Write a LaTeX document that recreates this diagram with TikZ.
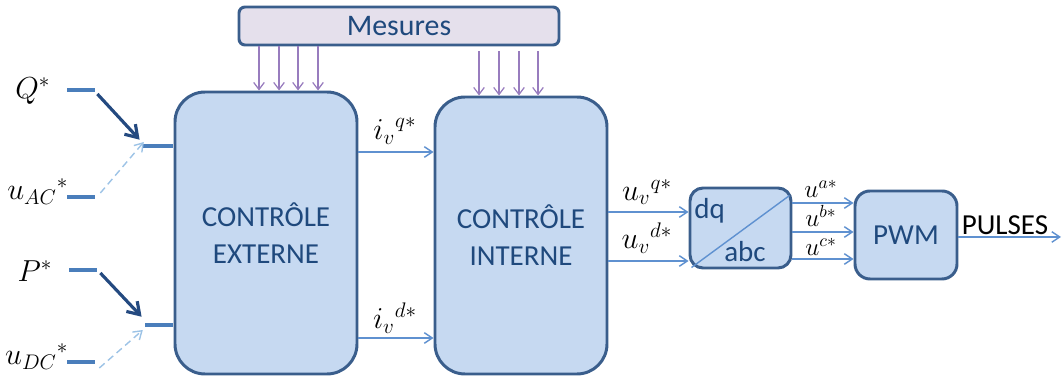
\documentclass[tikz,border=0pt]{standalone}
\usepackage{fontspec}
\setmainfont{Carlito}
\usetikzlibrary{arrows.meta}

\definecolor{boxfill}{RGB}{198,217,241}
\definecolor{boxline}{RGB}{58,94,140}
\definecolor{boxtext}{RGB}{31,73,125}
\definecolor{mesfill}{RGB}{229,224,236}
\definecolor{mesarrow}{RGB}{152,124,190}
\definecolor{sigline}{RGB}{95,145,208}
\definecolor{barblue}{RGB}{74,126,187}
\definecolor{darkarrow}{RGB}{36,74,128}
\definecolor{dasharrow}{RGB}{157,195,230}

\tikzset{
  block/.style={draw=boxline, line width=1.7pt, fill=boxfill, text=boxtext,
    align=center, inner sep=0pt, font=\fontsize{16.5}{21}\selectfont},
  mesbox/.style={draw=boxline, line width=1.7pt, fill=mesfill, text=boxtext,
    rounded corners=6*0.02cm, inner sep=0pt, font=\fontsize{17}{19}\selectfont},
  sig/.style={draw=sigline, line width=0.8pt, -{Straight Barb[length=4.5pt,width=6pt]}},
  meas/.style={draw=mesarrow, line width=0.7pt, -{Straight Barb[length=4pt,width=6pt]}},
  bar/.style={fill=barblue, inner sep=0pt, minimum height=2.8pt},
  ref/.style={draw=darkarrow, line width=1.8pt, -{Straight Barb[length=6.5pt,width=8.5pt]}, shorten >=1pt},
  refdash/.style={draw=dasharrow, line width=0.8pt, dashed, dash pattern=on 4pt off 2.5pt,
    -{Straight Barb[length=4.5pt,width=6pt]}},
  mlab/.style={inner sep=0pt, font=\fontsize{17}{20}\selectfont},
  slab/.style={inner sep=0pt, font=\fontsize{14}{15}\selectfont},
  tlab/.style={inner sep=0pt, font=\fontsize{16.5}{19}\selectfont},
}

\begin{document}
\begin{tikzpicture}[x=0.02cm, y=-0.02cm]
\useasboundingbox (0,0) rectangle (1063,381);

% main blocks
\node[mesbox, minimum width=320*0.02cm, minimum height=38*0.02cm] (mes) at (399,26) {Mesures};
\node[block, rounded corners=30*0.02cm, minimum width=182*0.02cm, minimum height=282*0.02cm] (ext) at (266,233)
  {CONTRÔLE\\EXTERNE};
\node[block, rounded corners=30*0.02cm, minimum width=172*0.02cm, minimum height=277*0.02cm] (int) at (521,235.5)
  {CONTRÔLE\\INTERNE};
\node[block, rounded corners=13*0.02cm, minimum width=101*0.02cm, minimum height=80*0.02cm] (dq) at (740.5,228) {};
\node[block, rounded corners=15*0.02cm, minimum width=102*0.02cm, minimum height=88*0.02cm] (pwm) at (906,235) {PWM};

% dq / abc transform
\draw[sigline, line width=0.8pt] ([shift={(3,-2)}]dq.south west) -- ([shift={(-3,9)}]dq.north east);
\node[tlab, text=boxtext, anchor=west] (dqt) at (694,211) {dq};
\node[tlab, text=boxtext, anchor=west] (abct) at (724,252) {abc};

% measurements
\foreach \x in {259,279,298,318}
  \draw[meas] (mes.south -| \x,0) -- (ext.north -| \x,0);
\foreach \x in {479,499,519,538}
  \draw[meas] ([yshift=-5*0.02cm]mes.south -| \x,0) -- (int.north -| \x,0);

% reference inputs
\node[bar, minimum width=28*0.02cm] (qbar) at (81,90) {};
\node[bar, minimum width=28*0.02cm] (uacbar) at (81,197) {};
\node[bar, minimum width=28*0.02cm] (pbar) at (83,270) {};
\node[bar, minimum width=28*0.02cm] (udcbar) at (81,362) {};
\node[bar, minimum width=30*0.02cm, anchor=east] (qin) at (ext.west |- 0,146) {};
\node[bar, minimum width=28*0.02cm, anchor=east] (pin) at (ext.west |- 0,325) {};

\node[mlab, anchor=east] (qlab) at (qbar.west) [xshift=-16*0.02cm, yshift=-1*0.02cm] {$Q^{*}$};
\node[mlab, anchor=base east] (uaclab) at (uacbar.west) [xshift=2*0.02cm, yshift=-3*0.02cm] {${u_{AC}}^{*}$};
\node[mlab, anchor=east] (plab) at (pbar.west) [xshift=-16*0.02cm, yshift=-1*0.02cm] {$P^{*}$};
\node[mlab, anchor=base east] (udclab) at (udcbar.west) [xshift=2*0.02cm, yshift=-3*0.02cm] {${u_{DC}}^{*}$};

\draw[ref] ([shift={(2,4)}]qbar.east) -- ([shift={(-2,-5)}]qin.west);
\draw[refdash] ([shift={(5,-4)}]uacbar.east) -- ([shift={(1,-4)}]qin.west);
\draw[ref] ([shift={(3,3)}]pbar.east) -- ([shift={(-2,-7)}]pin.west);
\draw[refdash] ([shift={(4,6)}]udcbar.east) -- ([shift={(-2,5)}]pin.west);

% current references
\draw[sig] (ext.east |- 0,152) -- (int.west |- 0,152);
\draw[sig] (ext.east |- 0,338) -- (int.west |- 0,338);
\node[mlab] (ivq) at (395,131) {${i_v}^{q*}$};
\node[mlab] (ivd) at (395,318) {${i_v}^{d*}$};

% voltage references
\draw[sig] (int.east |- 0,212) -- (dq.west |- 0,212);
\draw[sig] (int.east |- 0,261) -- (dq.west |- 0,261);
\node[mlab] (uvq) at (647,192) {${u_v}^{q*}$};
\node[mlab] (uvd) at (647,238) {${u_v}^{d*}$};

% three-phase references
\draw[sig] (dq.east |- 0,203) -- (pwm.west |- 0,203);
\draw[sig] (dq.east |- 0,232) -- (pwm.west |- 0,232);
\draw[sig] (dq.east |- 0,259) -- (pwm.west |- 0,259);
\node[slab, anchor=base] (ua) at (821,198) {$u^{a*}$};
\node[slab, anchor=base] (ub) at (821,227) {$u^{b*}$};
\node[slab, anchor=base] (uc) at (821,256) {$u^{c*}$};

% output
\coordinate (out) at (1061,237);
\draw[sig] (pwm.east |- out) -- (out);
\node[tlab] (pulses) at (1005,225) {PULSES};
\end{tikzpicture}
\end{document}
